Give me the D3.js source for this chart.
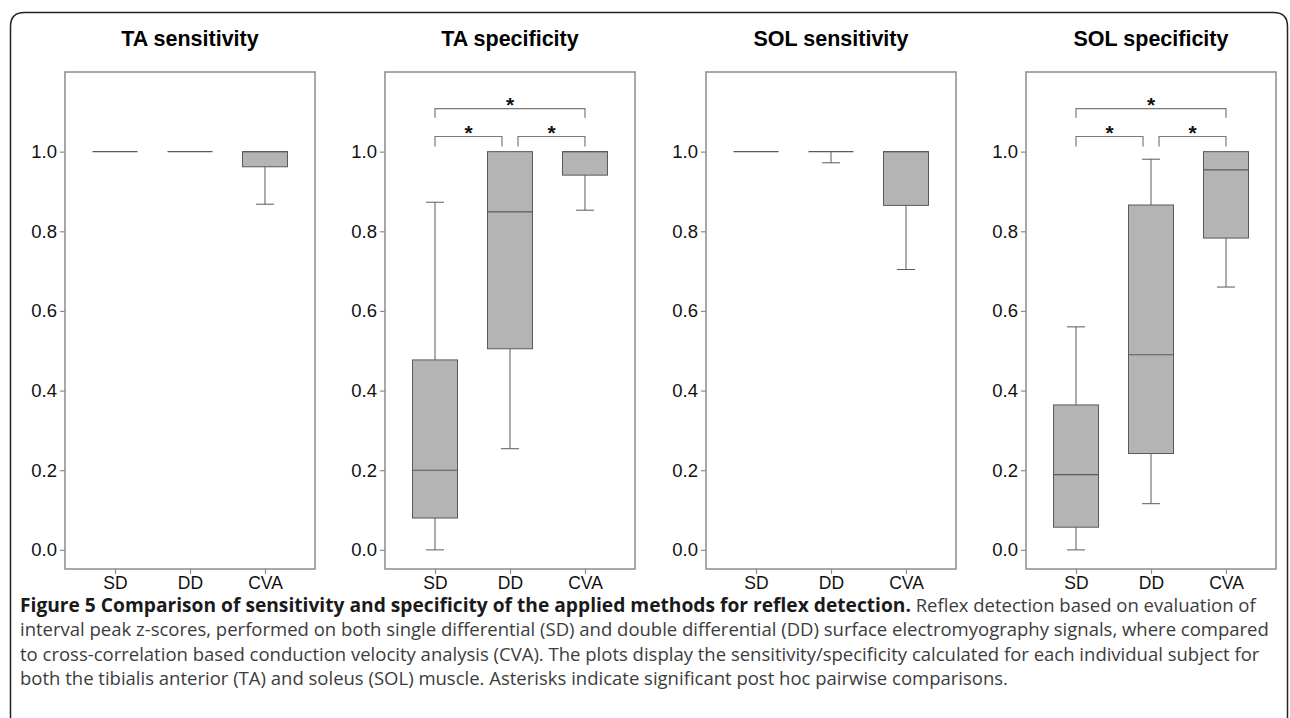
<!DOCTYPE html>
<html><head><meta charset="utf-8">
<script src="https://cdn.jsdelivr.net/npm/d3@7/dist/d3.min.js"></script>
<style>
html,body{margin:0;padding:0;background:#fff;}
svg{display:block;}
</style></head>
<body>
<svg id="chart" width="1290" height="718"></svg>
<script>
const categories = ["SD", "DD", "CVA"];
const panelTitles = ["TA sensitivity", "TA specificity", "SOL sensitivity", "SOL specificity"];
const yTicks = [0.0, 0.2, 0.4, 0.6, 0.8, 1.0];
// [min, q1, median, q3, max] per category
const taSensitivity = [[1.0, 1.0, 1.0, 1.0, 1.0], [1.0, 1.0, 1.0, 1.0, 1.0], [0.868, 0.962, 1.0, 1.0, 1.0]];
const taSpecificity = [[0.0, 0.08, 0.2, 0.477, 0.873], [0.254, 0.505, 0.849, 1.0, 1.0], [0.853, 0.941, 1.0, 1.0, 1.0]];
const solSensitivity = [[1.0, 1.0, 1.0, 1.0, 1.0], [0.972, 1.0, 1.0, 1.0, 1.0], [0.704, 0.865, 1.0, 1.0, 1.0]];
const solSpecificity = [[0.0, 0.057, 0.189, 0.364, 0.56], [0.116, 0.242, 0.49, 0.866, 0.981], [0.66, 0.783, 0.954, 1.0, 1.0]];
const panelData = [taSensitivity, taSpecificity, solSensitivity, solSpecificity];
// significance brackets: [from category, to category, level]
const specificityBrackets = [["SD", "DD", "low"], ["DD", "CVA", "low"], ["SD", "CVA", "high"]];
const panelBrackets = [[], specificityBrackets, [], specificityBrackets];
const captionBold = "Figure 5 Comparison of sensitivity and specificity of the applied methods for reflex detection.";
const captionLines = [
  " Reflex detection based on evaluation of",
  "interval peak z-scores, performed on both single differential (SD) and double differential (DD) surface electromyography signals, where compared",
  "to cross-correlation based conduction velocity analysis (CVA). The plots display the sensitivity/specificity calculated for each individual subject for",
  "both the tibialis anterior (TA) and soleus (SOL) muscle. Asterisks indicate significant post hoc pairwise comparisons."
];

const svg = d3.select("#chart");

// outer frame with rounded top corners
const fx0 = 10.5, fy0 = 12.5, fx1 = 1287.5, r = 14;
svg.append("path")
  .attr("d", `M${fx0},718 L${fx0},${fy0 + r} Q${fx0},${fy0} ${fx0 + r},${fy0} L${fx1 - r},${fy0} Q${fx1},${fy0} ${fx1},${fy0 + r} L${fx1},718`)
  .attr("fill", "none").attr("stroke", "#222").attr("stroke-width", 1.5);

const panelLeft = [65, 385, 706, 1026];
const panelW = 250, plotTop = 72, plotBottom = 569;
const y = d3.scaleLinear().domain([-0.048, 1.2]).range([plotBottom, plotTop]);
const boxW = 45, capW = 18;
const frameColor = "#8c8c8c", boxStroke = "#5a5a5a", boxFill = "#b4b4b4";
const axisFont = "Liberation Sans, Arial, sans-serif";

panelData.forEach((data, pi) => {
  const x0 = panelLeft[pi];
  const x = d3.scalePoint().domain(categories).range([x0, x0 + panelW]).padding(0.667);
  const g = svg.append("g");

  // title
  g.append("text").attr("x", x0 + panelW / 2).attr("y", 46)
    .attr("text-anchor", "middle").attr("font-family", axisFont)
    .attr("font-weight", "bold").attr("font-size", 21.5).attr("fill", "#000").text(panelTitles[pi]);

  // frame
  g.append("rect").attr("x", x0).attr("y", plotTop).attr("width", panelW).attr("height", plotBottom - plotTop)
    .attr("fill", "none").attr("stroke", frameColor).attr("stroke-width", 1.5);

  // y axis
  const yAxis = d3.axisLeft(y).tickValues(yTicks).tickFormat(d3.format(".1f")).tickSize(5).tickPadding(3);
  const ya = g.append("g").attr("transform", `translate(${x0},0)`).call(yAxis);
  ya.select(".domain").remove();
  ya.selectAll(".tick line").attr("stroke", frameColor).attr("stroke-width", 1.2);
  ya.selectAll(".tick text").attr("font-family", axisFont).attr("font-size", 18.5).attr("fill", "#111");

  // x axis
  const xAxis = d3.axisBottom(x).tickSize(5).tickPadding(3);
  const xa = g.append("g").attr("transform", `translate(0,${plotBottom})`).call(xAxis);
  xa.select(".domain").remove();
  xa.selectAll(".tick line").attr("stroke", frameColor).attr("stroke-width", 1.2);
  xa.selectAll(".tick text").attr("font-family", axisFont).attr("font-size", 17.5).attr("fill", "#111");

  // boxes
  categories.forEach((c, ci) => {
    const [mn, q1, md, q3, mx] = data[ci];
    const cx = x(c);
    const bg = g.append("g");
    if (mn < q1) {
      bg.append("line").attr("x1", cx).attr("x2", cx).attr("y1", y(q1)).attr("y2", y(mn)).attr("stroke", boxStroke);
      bg.append("line").attr("x1", cx - capW / 2).attr("x2", cx + capW / 2).attr("y1", y(mn)).attr("y2", y(mn)).attr("stroke", boxStroke);
    }
    if (mx > q3) {
      bg.append("line").attr("x1", cx).attr("x2", cx).attr("y1", y(q3)).attr("y2", y(mx)).attr("stroke", boxStroke);
      bg.append("line").attr("x1", cx - capW / 2).attr("x2", cx + capW / 2).attr("y1", y(mx)).attr("y2", y(mx)).attr("stroke", boxStroke);
    }
    if (q3 > q1) {
      bg.append("rect").attr("x", cx - boxW / 2).attr("y", y(q3)).attr("width", boxW).attr("height", y(q1) - y(q3))
        .attr("fill", boxFill).attr("stroke", boxStroke).attr("stroke-width", 1);
    }
    bg.append("line").attr("x1", cx - boxW / 2).attr("x2", cx + boxW / 2).attr("y1", y(md)).attr("y2", y(md))
      .attr("stroke", boxStroke).attr("stroke-width", 1.2);
  });

  // significance brackets
  panelBrackets[pi].forEach(([a, b, level]) => {
    const lvl = level === "high" ? { bar: 1.108, end: 1.085, star: 1.128 } : { bar: 1.038, end: 1.013, star: 1.058 };
    let xa1 = x(a), xb1 = x(b);
    if (level === "low") {
      if (b === "DD") xb1 -= 8;
      if (a === "DD") xa1 += 8;
    }
    g.append("path")
      .attr("d", `M${xa1},${y(lvl.end)} L${xa1},${y(lvl.bar)} L${xb1},${y(lvl.bar)} L${xb1},${y(lvl.end)}`)
      .attr("fill", "none").attr("stroke", "#7a7a7a").attr("stroke-width", 1.2);
    g.append("text").attr("x", (xa1 + xb1) / 2).attr("y", y(lvl.star) + 11)
      .attr("text-anchor", "middle").attr("font-family", axisFont)
      .attr("font-weight", "bold").attr("font-size", 21).attr("fill", "#111").text("*");
  });
});

// caption
const capFont = "Open Sans, Noto Sans, sans-serif";
const capX = 20, capY0 = 612, capDy = 24.4, capSize = 18.5, capBoldSize = 19.2;
const t1 = svg.append("text").attr("x", capX).attr("y", capY0).attr("font-family", capFont).attr("font-size", capSize);
t1.append("tspan").attr("font-weight", "bold").attr("font-size", capBoldSize).attr("fill", "#1a1a1a").text(captionBold);
t1.append("tspan").attr("fill", "#3c3c3c").text(captionLines[0]);
captionLines.slice(1).forEach((line, i) => {
  svg.append("text").attr("x", capX).attr("y", capY0 + capDy * (i + 1))
    .attr("font-family", capFont).attr("font-size", capSize).attr("fill", "#3c3c3c").text(line);
});
</script>
</body></html>
